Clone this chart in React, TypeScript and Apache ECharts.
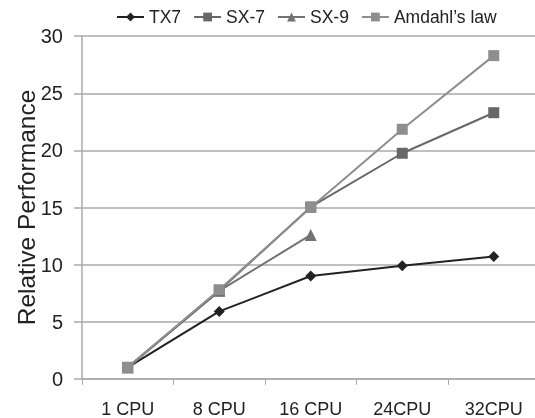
import React, { useEffect, useRef } from "react";
import * as echarts from "echarts";

const categories = ["1 CPU", "8 CPU", "16 CPU", "24CPU", "32CPU"];
const tx7 = [1, 5.9, 9.0, 9.9, 10.7];
const sx7 = [1, 7.7, 15.05, 19.75, 23.3];
const sx9 = [1, 7.7, 12.6, null, null];
const amdahl = [1, 7.8, 15.0, 21.85, 28.3];

export default function App() {
  const ref = useRef<HTMLDivElement>(null);
  useEffect(() => {
    const chart = echarts.init(ref.current!, null, { renderer: "svg" });
    const font = "Liberation Sans, Arial, sans-serif";
    chart.setOption({
      animation: false,
      textStyle: { fontFamily: font },
      legend: {
        top: 3,
        left: 111,
        itemWidth: 27,
        itemHeight: 11,
        itemGap: 12,
        textStyle: { fontSize: 17.5, color: "#222", fontFamily: font },
        data: ["TX7", "SX-7", "SX-9", "Amdahl\u2019s law"],
      },
      grid: {
        left: 82,
        top: 36.2,
        width: 457.5,
        height: 342.6,
        containLabel: false,
        outerBoundsMode: "none",
      },
      xAxis: {
        type: "category",
        data: categories,
        boundaryGap: true,
        axisLine: { lineStyle: { color: "#aaa", width: 1.5 } },
        axisTick: { show: true, length: 6, lineStyle: { color: "#aaa" } },
        axisLabel: { fontSize: 18, color: "#222", margin: 21, fontFamily: font },
      },
      yAxis: {
        type: "value",
        min: 0,
        max: 30,
        interval: 5,
        name: "Relative Performance",
        nameLocation: "middle",
        nameGap: 43,
        nameMoveOverlap: false,
        nameTextStyle: { fontSize: 24.5, color: "#222", fontFamily: font },
        axisLine: { show: true, lineStyle: { color: "#aaa", width: 1.5 } },
        axisTick: { show: true, length: 8, lineStyle: { color: "#aaa", width: 1.5 } },
        axisLabel: { fontSize: 20, color: "#222", margin: 19, fontFamily: font },
        splitLine: { lineStyle: { color: "#aaa", width: 1.5 } },
      },
      series: [
        {
          name: "TX7",
          type: "line",
          data: tx7,
          symbol: "diamond",
          symbolSize: 11,
          itemStyle: { color: "#222" },
          lineStyle: { color: "#222", width: 2 },
          z: 2,
        },
        {
          name: "SX-7",
          type: "line",
          data: sx7,
          symbol: "rect",
          symbolSize: 11,
          itemStyle: { color: "#686868" },
          lineStyle: { color: "#686868", width: 2 },
          z: 4,
        },
        {
          name: "SX-9",
          type: "line",
          data: sx9,
          symbol: "triangle",
          symbolSize: 12,
          itemStyle: { color: "#727272" },
          lineStyle: { color: "#727272", width: 2 },
          z: 3,
        },
        {
          name: "Amdahl\u2019s law",
          type: "line",
          data: amdahl,
          symbol: "rect",
          symbolSize: 11,
          itemStyle: { color: "#8e8e8e" },
          lineStyle: { color: "#8e8e8e", width: 2 },
          z: 5,
        },
      ],
    });
    return () => chart.dispose();
  }, []);
  return <div ref={ref} style={{ position: "fixed", left: 0, top: 0, width: 535, height: 418 }} />;
}
